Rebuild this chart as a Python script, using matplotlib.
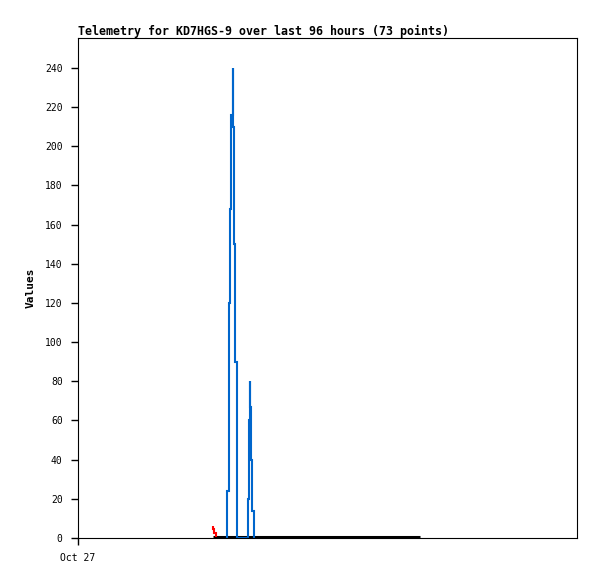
import matplotlib
matplotlib.use("Agg")
import matplotlib.pyplot as plt

# hours since Oct 27 00:00 (axis spans 96 hours)
red_hours = [25.97, 26.16, 26.36, 26.55]
red_values = [6.0, 4.6, 2.6, 0.5]

blue_hours = [28.66, 28.86, 29.05, 29.24, 29.43, 29.63, 29.82, 30.01, 30.20, 30.40, 30.59, 30.78,
              32.52, 32.71, 32.90, 33.09, 33.28, 33.47, 33.67, 33.86]
blue_values = [0, 24, 72, 120, 168, 216, 240, 210, 150, 90, 30, 0,
               0, 20, 60, 80, 67, 40, 14, 0]

black_hours = [25.97, 65.8]
black_values = [0.4, 0.4]

x_ticks = [0]
x_tick_labels = ["Oct 27"]
y_ticks = list(range(0, 241, 20))

fig = plt.figure(figsize=(5.97, 5.79), dpi=100)
ax = fig.add_axes([78 / 597, 41 / 579, 499 / 597, 500 / 579])

ax.plot(black_hours, black_values, color="black", linewidth=2.2, solid_capstyle="butt")
ax.plot(red_hours, red_values, color="#ff0000", linewidth=1.5, drawstyle="steps-mid",
        solid_joinstyle="miter", solid_capstyle="butt")
ax.plot(blue_hours, blue_values, color="#0066cc", linewidth=1.5, drawstyle="steps-mid",
        solid_joinstyle="miter", solid_capstyle="butt")

ax.set_xlim(0, 96)
ax.set_ylim(0, 255.3)
ax.set_xticks(x_ticks)
ax.set_xticklabels(x_tick_labels)
ax.set_yticks(y_ticks)

mono = "DejaVu Sans Mono"
for lbl in ax.get_xticklabels() + ax.get_yticklabels():
    lbl.set_family(mono)
    lbl.set_fontsize(7)
ax.tick_params(direction="out", length=5, width=1, pad=6)
for s in ax.spines.values():
    s.set_linewidth(0.8)

ax.set_ylabel("Values", family=mono, fontsize=8, fontweight="bold", labelpad=7)
fig.text(78 / 597, 1 - 31 / 579, "Telemetry for KD7HGS-9 over last 96 hours (73 points)",
         family=mono, fontsize=8.4, fontweight="bold", ha="left", va="center")

fig.savefig("out.png", dpi=100)
